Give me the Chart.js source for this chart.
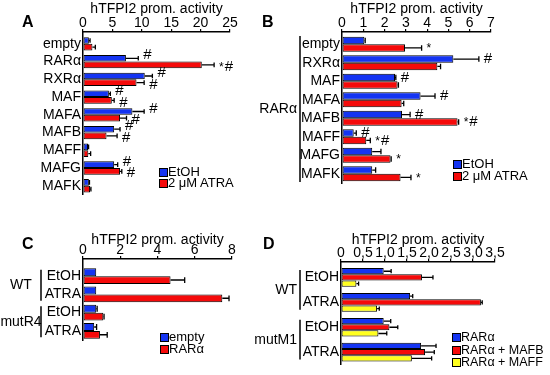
<!DOCTYPE html>
<html>
<head>
<meta charset="utf-8">
<script src="https://cdn.jsdelivr.net/npm/chart.js@4.4.0/dist/chart.umd.min.js"></script>
<style>
  html, body { margin: 0; padding: 0; background: #fff; }
  #page { position: relative; width: 550px; height: 375px; overflow: hidden; font-family: 'Liberation Sans', Arial, sans-serif; color: #000; }
  #page canvas { position: absolute; }
  .letter { position: absolute; font-weight: bold; font-size: 16px; line-height: 16px; }
  .sq { position: absolute; width: 7px; height: 7px; border: 1px solid #000; }
  .lt { position: absolute; line-height: 14px; white-space: nowrap; }
</style>
</head>
<body>
<div id="page">
  <canvas id="chartA" width="255" height="205" style="left:0;top:0"></canvas>
  <canvas id="chartB" width="295" height="200" style="left:255px;top:0"></canvas>
  <canvas id="chartC" width="255" height="144" style="left:0;top:231px"></canvas>
  <canvas id="chartD" width="295" height="144" style="left:255px;top:231px"></canvas>
</div>
<script>
// 颜色
const BLUE = '#1434f2';
const RED = '#f50a0a';
const YELLOW = '#ffff1e';
const AXIS_TITLE = 'hTFPI2 prom. activity';

// A: 各转录因子 + EtOH / ATRA
const catsA = ['empty', 'RARα', 'RXRα', 'MAF', 'MAFA', 'MAFB', 'MAFF', 'MAFG', 'MAFK'];
const etohA = [1.0, 7.3, 10.5, 4.4, 8.4, 5.3, 0.85, 5.3, 1.0];
const etohErrA = [0.2, 2.1, 1.3, 0.25, 2.0, 1.0, 0.1, 0.6, 0.1];
const atraA = [1.6, 20.2, 9.1, 4.9, 6.3, 4.0, 0.9, 6.3, 1.2];
const atraErrA = [0.5, 2.1, 1.3, 0.4, 1.1, 1.8, 0.4, 0.3, 0.15];
const marksEtohA = ['', '#', '#', '#', '#', '#', '', '#', ''];
const marksAtraA = ['', '*#', '#', '#', '#', '#', '', '#', ''];

// B: RARα + 各转录因子
const catsB = ['empty', 'RXRα', 'MAF', 'MAFA', 'MAFB', 'MAFF', 'MAFG', 'MAFK'];
const etohB = [1.05, 5.23, 2.49, 3.69, 2.82, 0.55, 1.42, 1.42];
const etohErrB = [0.04, 1.2, 0.04, 0.68, 0.38, 0.12, 0.41, 0.16];
const atraB = [2.96, 4.48, 2.61, 2.8, 5.43, 1.14, 2.28, 2.75];
const atraErrB = [0.78, 0.15, 0.04, 0.1, 0.05, 0.19, 0.03, 0.49];
const marksEtohB = ['', '#', '#', '#', '#', '#', '', ''];
const marksAtraB = ['*', '', '', '', '*#', '*#', '*', '*'];

// C: WT / mutR4
const catsC = ['EtOH', 'ATRA', 'EtOH', 'ATRA'];
const emptyC = [0.71, 0.71, 0.71, 0.6];
const emptyErrC = [0, 0, 0.05, 0.13];
const raraC = [4.7, 7.48, 1.09, 0.91];
const raraErrC = [0.76, 0.36, 0.04, 0.39];

// D: WT / mutM1
const catsD = ['EtOH', 'ATRA', 'EtOH', 'ATRA'];
const raraD = [0.97, 1.57, 0.97, 1.82];
const raraErrD = [0.17, 0.06, 0.16, 0.34];
const mafbD = [1.84, 3.18, 1.1, 1.91];
const mafbErrD = [0.25, 0.03, 0.19, 0.21];
const maffD = [0.35, 0.82, 0.85, 1.61];
const maffErrD = [0.05, 0.05, 0.19, 0.45];

const FONT = "'Liberation Sans', Arial, sans-serif";
const FS = 14;

// 类别轴整体下移（坐标轴与第一组柱之间的空隙）
function makeBandShift(gap) {
    return {
        id: 'bandShift',
        afterLayout(chart) {
            const s = chart.scales.y;
            s._startPixel += gap;
            s._length -= gap;
        }
    };
}

// 误差线 + 显著性标记
const errorBars = {
    id: 'errorBars',
    afterDatasetsDraw(chart) {
        const ctx = chart.ctx;
        const xs = chart.scales.x;
        chart.data.datasets.forEach((ds, i) => {
            const meta = chart.getDatasetMeta(i);
            meta.data.forEach((bar, j) => {
                const err = ds.errors ? ds.errors[j] : 0;
                const end = xs.getPixelForValue(ds.data[j] + err);
                const h = bar.height;
                ctx.save();
                ctx.strokeStyle = '#000';
                ctx.lineWidth = 1.3;
                if (err > 0) {
                    ctx.beginPath();
                    ctx.moveTo(bar.x, bar.y);
                    ctx.lineTo(end, bar.y);
                    ctx.moveTo(end, bar.y - h / 2 + 1);
                    ctx.lineTo(end, bar.y + h / 2 - 1);
                    ctx.stroke();
                }
                const mark = ds.marks ? ds.marks[j] : '';
                if (mark) {
                    let x = Math.max(end, bar.x) + 5;
                    ctx.fillStyle = '#000';
                    ctx.textBaseline = 'middle';
                    ctx.textAlign = 'left';
                    for (const c of mark) {
                        ctx.font = (c === '*' ? '12px ' : '15px ') + FONT;
                        ctx.fillText(c, x, bar.y + (ds.markDy || 0) + (c === '*' ? 1 : 0));
                        x += ctx.measureText(c).width + 1;
                    }
                }
                ctx.restore();
            });
        });
    }
};

// 分组括号和组名
function makeGroupPlugin(g) {
    return {
        id: 'groupBrackets',
        afterDraw(chart) {
            if (!g) return;
            const ctx = chart.ctx;
            const ys = chart.scales.y;
            ctx.save();
            ctx.strokeStyle = '#000';
            ctx.lineWidth = 1.5;
            ctx.fillStyle = '#000';
            ctx.font = FS + 'px ' + FONT;
            ctx.textBaseline = 'middle';
            ctx.textAlign = g.align;
            g.items.forEach(item => {
                const y1 = ys.getPixelForValue(item.from - g.pad);
                const y2 = ys.getPixelForValue(item.to + g.pad);
                ctx.beginPath();
                ctx.moveTo(g.bracketX, y1);
                ctx.lineTo(g.bracketX, y2);
                ctx.stroke();
                ctx.fillText(item.label, g.labelX, (y1 + y2) / 2);
            });
            ctx.restore();
        }
    };
}

function buildChart(id, cfg) {
    const datasets = cfg.series.map(s => ({
        label: s.label,
        data: s.data,
        errors: s.errors,
        marks: s.marks || [],
        markDy: s.markDy || 0,
        backgroundColor: s.color,
        borderColor: '#000',
        borderWidth: 1,
        borderSkipped: false,
        categoryPercentage: cfg.catPct,
        barPercentage: 1
    }));

    return new Chart(document.getElementById(id), {
        type: 'bar',
        data: { labels: cfg.labels, datasets: datasets },
        options: {
            indexAxis: 'y',
            responsive: false,
            animation: false,
            layout: { padding: cfg.padding },
            plugins: {
                legend: { display: false },
                tooltip: { enabled: false }
            },
            scales: {
                x: {
                    position: 'top',
                    min: 0,
                    max: cfg.max,
                    afterFit: s => { s.height = cfg.xHeight; },
                    afterBuildTicks: s => {
                        s.ticks = cfg.ticks.map(v => ({ value: v }));
                    },
                    ticks: {
                        autoSkip: false,
                        maxRotation: 0,
                        padding: -3,
                        color: '#000',
                        font: { family: FONT, size: FS },
                        callback: cfg.tickFormat || (v => String(v))
                    },
                    grid: { drawOnChartArea: false, drawTicks: true, tickLength: 3, color: '#000', lineWidth: 1.2 },
                    border: { display: true, color: '#000', width: 1.5 },
                    title: {
                        display: true,
                        text: AXIS_TITLE,
                        color: '#000',
                        font: { family: FONT, size: FS },
                        padding: { top: 1, bottom: 0 }
                    }
                },
                y: {
                    afterFit: s => { s.width = cfg.yWidth; },
                    ticks: {
                        autoSkip: false,
                        padding: 2,
                        color: '#000',
                        font: { family: FONT, size: FS }
                    },
                    grid: { drawOnChartArea: false, drawTicks: false },
                    border: { display: true, color: '#000', width: 1.5 }
                }
            }
        },
        plugins: [makeBandShift(cfg.gap), errorBars, makeGroupPlugin(cfg.groups)]
    });
}

// 图例（HTML）
function addLegend(x, y0, rowH, size, items) {
    const page = document.getElementById('page');
    items.forEach((it, k) => {
        const cy = y0 + k * rowH;
        const sq = document.createElement('div');
        sq.className = 'sq';
        Object.assign(sq.style, { left: x + 'px', top: (cy - 4) + 'px', backgroundColor: it.color });
        const t = document.createElement('div');
        t.className = 'lt';
        t.textContent = it.label;
        Object.assign(t.style, { left: (x + 9) + 'px', top: (cy - 7) + 'px', fontSize: size + 'px' });
        page.appendChild(sq);
        page.appendChild(t);
    });
}

function addLetter(text, x, y) {
    const d = document.createElement('div');
    d.className = 'letter';
    d.textContent = text;
    Object.assign(d.style, { left: x + 'px', top: (y - 8) + 'px' });
    document.getElementById('page').appendChild(d);
}

buildChart('chartA', {
    labels: catsA,
    series: [
        { label: 'EtOH', data: etohA, errors: etohErrA, marks: marksEtohA, markDy: -3, color: BLUE },
        { label: '2 μM ATRA', data: atraA, errors: atraErrA, marks: marksAtraA, markDy: 2, color: RED }
    ],
    max: 25, ticks: [0, 5, 10, 15, 20, 25],
    padding: { left: 0, top: 0, right: 25, bottom: 8 },
    xHeight: 32, yWidth: 83, gap: 3, catPct: 0.75
});

buildChart('chartB', {
    labels: catsB,
    series: [
        { label: 'EtOH', data: etohB, errors: etohErrB, marks: marksEtohB, color: BLUE },
        { label: '2 μM ATRA', data: atraB, errors: atraErrB, marks: marksAtraB, color: RED }
    ],
    max: 7, ticks: [0, 1, 2, 3, 4, 5, 6, 7],
    padding: { left: 0, top: 0, right: 59, bottom: 17 },
    xHeight: 32, yWidth: 87, gap: 3, catPct: 0.8,
    groups: { items: [{ label: 'RARα', from: 0, to: 7 }], bracketX: 45, labelX: 42, align: 'right', pad: 0.45 }
});

buildChart('chartC', {
    labels: catsC,
    series: [
        { label: 'empty', data: emptyC, errors: emptyErrC, color: BLUE },
        { label: 'RARα', data: raraC, errors: raraErrC, color: RED }
    ],
    max: 8, ticks: [0, 2, 4, 6, 8],
    padding: { left: 0, top: 0, right: 23, bottom: 35 },
    xHeight: 28, yWidth: 83, gap: 8, catPct: 0.85,
    groups: {
        items: [{ label: 'WT', from: 0, to: 1 }, { label: 'mutR4', from: 2, to: 3 }],
        bracketX: 41, labelX: 21, align: 'center', pad: 0.35
    }
});

buildChart('chartD', {
    labels: catsD,
    series: [
        { label: 'RARα', data: raraD, errors: raraErrD, color: BLUE },
        { label: 'RARα + MAFB', data: mafbD, errors: mafbErrD, color: RED },
        { label: 'RARα + MAFF', data: maffD, errors: maffErrD, color: YELLOW }
    ],
    max: 3.5, ticks: [0, 0.5, 1, 1.5, 2, 2.5, 3, 3.5],
    tickFormat: v => (v === 0 ? '0' : v.toFixed(1).replace('.', ',')),
    padding: { left: 0, top: 0, right: 55, bottom: 7 },
    xHeight: 31, yWidth: 86, gap: 3, catPct: 0.75,
    groups: {
        items: [{ label: 'WT', from: 0, to: 1 }, { label: 'mutM1', from: 2, to: 3 }],
        bracketX: 45, labelX: 42, align: 'right', pad: 0.3
    }
});

addLegend(159, 172, 10.5, 13, [{ label: 'EtOH', color: BLUE }, { label: '2 μM ATRA', color: RED }]);
addLegend(453, 164, 12, 13, [{ label: 'EtOH', color: BLUE }, { label: '2 μM ATRA', color: RED }]);
addLegend(160, 337, 12, 13, [{ label: 'empty', color: BLUE }, { label: 'RARα', color: RED }]);
addLegend(452, 337, 12.5, 12.5, [
    { label: 'RARα', color: BLUE },
    { label: 'RARα + MAFB', color: RED },
    { label: 'RARα + MAFF', color: YELLOW }
]);

addLetter('A', 22, 22);
addLetter('B', 262, 22);
addLetter('C', 22, 244);
addLetter('D', 263, 244);
</script>
</body>
</html>
